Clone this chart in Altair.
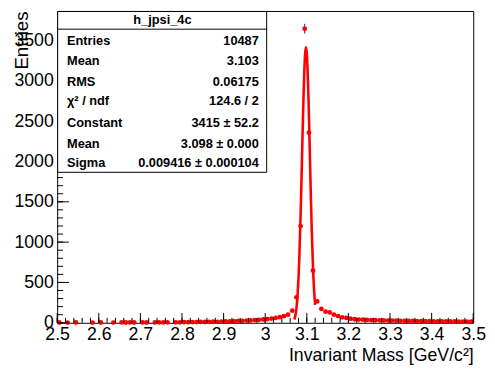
import altair as alt
import pandas as pd

# ---------------- data ----------------
mass = [2.505, 2.525, 2.545, 2.585, 2.605, 2.635, 2.655, 2.665, 2.675, 2.685,
        2.705, 2.715, 2.735, 2.745, 2.755, 2.765, 2.785, 2.795,
        2.805, 2.815, 2.825, 2.835, 2.845, 2.855, 2.865, 2.875, 2.885, 2.895,
        2.905, 2.915, 2.925, 2.935, 2.945, 2.955, 2.965, 2.975, 2.985, 2.995,
        3.005, 3.015, 3.025, 3.035, 3.045, 3.055, 3.065, 3.075, 3.085, 3.095,
        3.105, 3.115, 3.125, 3.135, 3.145, 3.155, 3.165, 3.175, 3.185, 3.195,
        3.205, 3.215, 3.225, 3.235, 3.245, 3.255, 3.265, 3.275, 3.285, 3.295,
        3.305, 3.315, 3.325, 3.335, 3.345, 3.355, 3.365, 3.375, 3.385, 3.395,
        3.405, 3.415, 3.425, 3.435, 3.445, 3.455, 3.465, 3.475, 3.485, 3.495]
counts = [3, 2, 3, 2, 3, 2, 4, 3, 4, 3,
          4, 3, 4, 5, 4, 5, 5, 6,
          8, 7, 9, 9, 11, 10, 12, 13, 12, 15,
          16, 17, 19, 22, 23, 27, 29, 33, 37, 42,
          45, 52, 60, 70, 82, 101, 150, 315, 1199, 3646,
          2357, 646, 265, 172, 138, 128, 101, 83, 68, 60,
          50, 44, 40, 38, 35, 33, 31, 30, 28, 27,
          26, 25, 24, 23, 22, 22, 21, 20, 20, 19,
          18, 18, 17, 17, 16, 16, 15, 15, 14, 14]

fit_mass = [3.070, 3.072, 3.075, 3.078, 3.080, 3.082, 3.085, 3.087, 3.090,
            3.092, 3.094, 3.096, 3.098, 3.100, 3.102, 3.104, 3.106, 3.108,
            3.110, 3.112, 3.115, 3.117, 3.120]
fit_counts = [41, 76, 173, 358, 550, 806, 1317, 1726, 2380,
              2788, 3120, 3339, 3415, 3339, 3120, 2788, 2380, 1943,
              1516, 1131, 669, 446, 223]

x_major = [2.5, 2.6, 2.7, 2.8, 2.9, 3.0, 3.1, 3.2, 3.3, 3.4, 3.5]
y_major = [0, 500, 1000, 1500, 2000, 2500, 3000, 3500]
x_minor = [round(2.5 + 0.02 * i, 2) for i in range(51)]
y_minor = [100 * i for i in range(39)]

stats_title = "h_jpsi_4c"
stats_labels = ["Entries", "Mean", "RMS", "χ² / ndf", "Constant", "Mean", "Sigma"]
stats_values = ["10487", "3.103", "0.06175", "124.6 / 2", "3415 ± 52.2",
                "3.098 ± 0.000", "0.009416 ± 0.000104"]

# ---------------- layout ----------------
W, H = 423, 317
FONT = "Liberation Sans"

xs = alt.Scale(domain=[2.5, 3.5], nice=False, zero=False)
ys = alt.Scale(domain=[0, 3866], nice=False, zero=True)

xaxis = alt.Axis(values=x_major, format=".2~f", ticks=False, domain=False, grid=False,
                 labelFont=FONT, labelFontSize=18, labelColor="black", labelPadding=3,
                 labelFlush=False,
                 title="Invariant Mass [GeV/c²]", titleFont=FONT, titleFontSize=18,
                 titleFontWeight="normal", titleColor="black", titleX=W, titleY=38,
                 titleAlign="right", titleBaseline="alphabetic")
yaxis = alt.Axis(values=y_major, format="d", ticks=False, domain=False, grid=False,
                 labelFont=FONT, labelFontSize=18, labelColor="black", labelPadding=4,
                 labelFlush=False,
                 title="Entries", titleFont=FONT, titleFontSize=19,
                 titleFontWeight="normal", titleColor="black", titleAngle=270,
                 titleX=-30, titleY=0, titleAlign="right", titleBaseline="alphabetic")

df = pd.DataFrame({"m": mass, "n": counts})
df["lo"] = df["n"] - df["n"] ** 0.5
df["hi"] = df["n"] + df["n"] ** 0.5
fit = pd.DataFrame({"m": fit_mass, "n": fit_counts})

X = lambda f: alt.X(f, type="quantitative", scale=xs, axis=xaxis)
Y = lambda f: alt.Y(f, type="quantitative", scale=ys, axis=yaxis)

errbars = alt.Chart(df).mark_rule(color="#1a1aa6", strokeWidth=1).encode(
    x=X("m"), y=Y("lo"), y2="hi")
points = alt.Chart(df).mark_circle(size=24, color="#ff0000", opacity=1).encode(
    x=X("m"), y=Y("n"))
curve = alt.Chart(fit).mark_line(color="#ff0000", strokeWidth=2.6,
                                 interpolate="monotone").encode(
    x=X("m"), y=Y("n"))

xmaj = alt.Chart(pd.DataFrame({"v": x_major})).mark_rule(color="black").encode(
    x=X("v"), y=alt.value(H), y2=alt.value(H - 10))
xmin = alt.Chart(pd.DataFrame({"v": x_minor})).mark_rule(color="black").encode(
    x=X("v"), y=alt.value(H), y2=alt.value(H - 5))
ymaj = alt.Chart(pd.DataFrame({"v": y_major})).mark_rule(color="black").encode(
    y=Y("v"), x=alt.value(0), x2=alt.value(12))
ymin = alt.Chart(pd.DataFrame({"v": y_minor})).mark_rule(color="black").encode(
    y=Y("v"), x=alt.value(0), x2=alt.value(6))

one = pd.DataFrame({"a": [0]})
box = alt.Chart(one).mark_rect(fill="white", stroke="black", strokeWidth=1).encode(
    x=alt.value(0.5), x2=alt.value(213), y=alt.value(0.5), y2=alt.value(164))
sep = alt.Chart(one).mark_rule(color="black", strokeWidth=1).encode(
    x=alt.value(0.5), x2=alt.value(213), y=alt.value(18.5))
head = alt.Chart(one).mark_text(text=stats_title, font=FONT, fontSize=13,
                                fontWeight="bold", align="center",
                                baseline="middle", color="black").encode(
    x=alt.value(107), y=alt.value(9.5))

rows_y = [31, 51, 72, 92, 114, 135, 155]
texts = []
for lab, val, yy in zip(stats_labels, stats_values, rows_y):
    texts.append(alt.Chart(one).mark_text(text=lab, font=FONT, fontSize=13,
                                          fontWeight="bold", align="left",
                                          baseline="middle", color="black").encode(
        x=alt.value(10), y=alt.value(yy)))
    texts.append(alt.Chart(one).mark_text(text=val, font=FONT, fontSize=13,
                                          fontWeight="bold", align="right",
                                          baseline="middle", color="black").encode(
        x=alt.value(205), y=alt.value(yy)))

chart = alt.layer(errbars, points, curve, xmaj, xmin, ymaj, ymin,
                  box, sep, head, *texts).properties(
    width=W, height=H,
    autosize=alt.AutoSizeParams(type="none"),
    padding={"left": 50, "top": 0, "right": 14, "bottom": 46},
    background="white",
).configure_view(stroke="black", strokeWidth=1)

chart.save("out.html", embed_options={"renderer": "svg", "actions": False})
